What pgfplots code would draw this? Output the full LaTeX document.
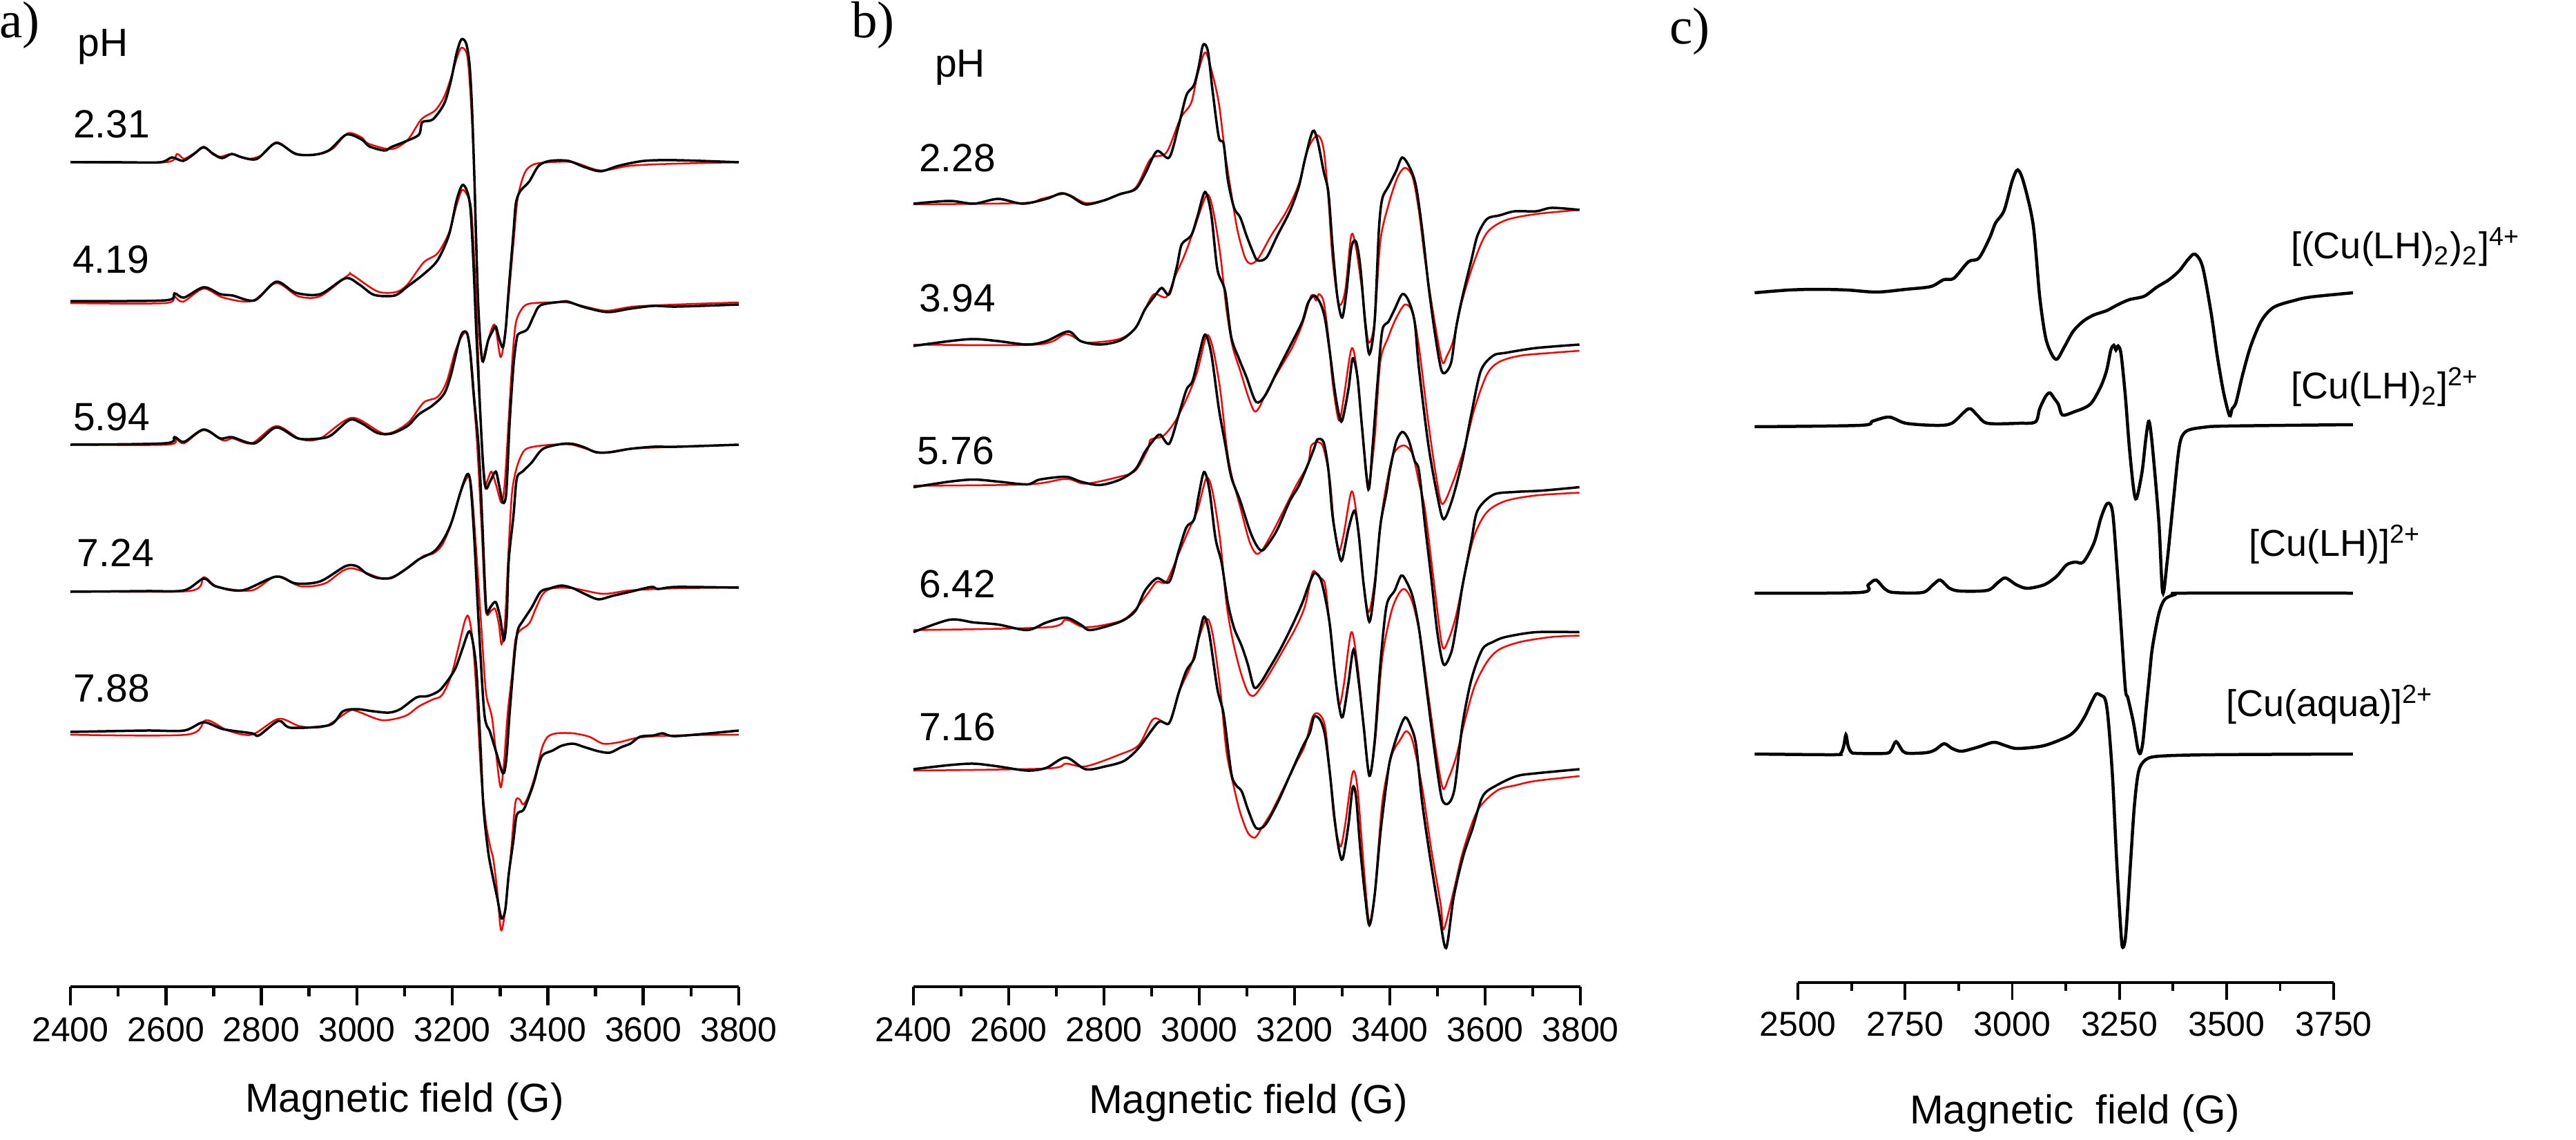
\documentclass[border=0pt]{standalone}
\usepackage{fontspec}
\setmainfont{Liberation Sans}
\newfontfamily\panelfont{Liberation Serif}
\usepackage{pgfplots}
\pgfplotsset{compat=1.18}

% EPR spectra: field in G, intensity in arbitrary units relative to each baseline
\pgfplotsset{
  eprbase/.style={
    scale only axis, clip=false, anchor=south west,
    axis x line*=bottom, hide y axis, ymin=0,
    tick align=outside,
    major tick length=5.4pt, minor tick length=2.8pt,
    tick style={black, line width=0.9pt},
    axis line style={line width=0.9pt},
    minor tick num=1,
    xticklabel style={font=\fontsize{10}{12}\selectfont},
    /pgf/number format/assume math mode=true,
    /pgf/number format/set thousands separator={},
    scaled x ticks=false,
  },
  expt/.style={black, line width=0.7pt, smooth},
  simu/.style={red, line width=0.5pt, smooth},
  calc/.style={black, line width=0.9pt, smooth},
}

\begin{document}
\begin{tikzpicture}
\useasboundingbox (0,0) rectangle (746.2pt,330pt);

%% ---------------- a) ----------------
\begin{axis}[eprbase, at={(20.4pt,44.2pt)}, width=193.6pt, height=279.8pt,
  xmin=2400, xmax=3800, ymax=1399, xtick={2400,2600,...,3800}]
% pH 2.31
\addplot[simu] table[row sep=\\, y expr=\thisrow{I}+1194]{G I\\
2400 0\\ 2598 0\\ 2623 12\\ 2638 5\\ 2659 13\\ 2679 21\\ 2699 13\\ 2714 8\\ 2738 12\\ 2770 5\\ 2800 10\\ 2831 29\\ 2860 17\\ 2882 11\\ 2923 12\\ 2950 20\\ 2981 42\\ 3010 36\\ 3024 27\\ 3072 19\\ 3106 32\\ 3135 62\\ 3164 75\\ 3183 95\\ 3197 122\\ 3210 152\\ 3219 166\\ 3231 155\\ 3238 98\\ 3246 -18\\ 3255 -218\\ 3262 -285\\ 3270 -270\\ 3288 -235\\ 3301 -282\\ 3310 -250\\ 3320 -180\\ 3328 -118\\ 3337 -52\\ 3352 -15\\ 3371 -3\\ 3405 0\\ 3453 0\\ 3511 -12\\ 3573 -5\\ 3670 -2\\ 3800 0\\};
\addplot[expt] table[row sep=\\, y expr=\thisrow{I}+1194]{G I\\
2400 0\\ 2507 0\\ 2588 0\\ 2613 7\\ 2636 2\\ 2659 12\\ 2679 22\\ 2699 12\\ 2718 6\\ 2738 12\\ 2760 7\\ 2791 5\\ 2831 28\\ 2872 12\\ 2912 11\\ 2943 18\\ 2978 40\\ 3010 33\\ 3026 23\\ 3058 17\\ 3072 22\\ 3101 30\\ 3130 40\\ 3137 58\\ 3159 62\\ 3183 85\\ 3197 118\\ 3209 158\\ 3219 178\\ 3229 172\\ 3236 142\\ 3241 82\\ 3246 -18\\ 3250 -118\\ 3255 -218\\ 3263 -288\\ 3275 -258\\ 3284 -245\\ 3291 -238\\ 3298 -255\\ 3306 -268\\ 3312 -240\\ 3318 -185\\ 3328 -102\\ 3333 -60\\ 3342 -42\\ 3361 -28\\ 3381 -5\\ 3405 2\\ 3443 2\\ 3477 -7\\ 3511 -13\\ 3549 -5\\ 3602 2\\ 3670 3\\ 3800 0\\};
% pH 4.19
\addplot[simu] table[row sep=\\, y expr=\thisrow{I}+991]{G I\\
2400 -1\\ 2598 -1\\ 2616 9\\ 2636 1\\ 2679 20\\ 2720 7\\ 2780 2\\ 2831 28\\ 2877 9\\ 2923 9\\ 2981 39\\ 2990 40\\ 3043 16\\ 3082 15\\ 3106 26\\ 3140 58\\ 3169 71\\ 3193 101\\ 3209 141\\ 3221 163\\ 3234 151\\ 3241 125\\ 3250 0\\ 3260 -180\\ 3267 -262\\ 3275 -255\\ 3282 -245\\ 3292 -265\\ 3303 -290\\ 3310 -260\\ 3318 -170\\ 3326 -80\\ 3333 -30\\ 3345 -10\\ 3360 -2\\ 3400 0\\ 3440 0\\ 3490 -8\\ 3525 -12\\ 3580 -6\\ 3670 -3\\ 3800 0\\};
\addplot[expt] table[row sep=\\, y expr=\thisrow{I}+991]{G I\\
2400 2\\ 2598 3\\ 2618 13\\ 2638 7\\ 2679 22\\ 2714 12\\ 2740 10\\ 2786 3\\ 2831 30\\ 2872 14\\ 2923 12\\ 2976 35\\ 3005 26\\ 3036 11\\ 3079 10\\ 3106 23\\ 3140 41\\ 3169 61\\ 3193 98\\ 3209 148\\ 3221 170\\ 3231 161\\ 3238 135\\ 3244 60\\ 3250 -40\\ 3257 -140\\ 3264 -230\\ 3270 -269\\ 3280 -258\\ 3291 -245\\ 3298 -265\\ 3306 -290\\ 3313 -275\\ 3320 -175\\ 3328 -92\\ 3335 -52\\ 3340 -45\\ 3357 -39\\ 3371 -19\\ 3385 -4\\ 3429 1\\ 3443 1\\ 3477 -7\\ 3525 -14\\ 3573 -9\\ 3622 -5\\ 3670 -6\\ 3800 -3\\};
% pH 5.94
\addplot[simu] table[row sep=\\, y expr=\thisrow{I}+785]{G I\\
2400 0\\ 2603 0\\ 2620 9\\ 2638 2\\ 2679 21\\ 2720 6\\ 2740 9\\ 2780 2\\ 2831 27\\ 2882 8\\ 2923 9\\ 2990 39\\ 3058 16\\ 3106 31\\ 3140 61\\ 3169 69\\ 3188 91\\ 3207 137\\ 3224 161\\ 3234 154\\ 3243 81\\ 3252 0\\ 3262 -130\\ 3270 -240\\ 3282 -240\\ 3290 -238\\ 3298 -262\\ 3303 -289\\ 3310 -260\\ 3318 -150\\ 3325 -70\\ 3335 -33\\ 3350 -9\\ 3370 -3\\ 3410 0\\ 3450 0\\ 3500 -10\\ 3525 -11\\ 3573 -6\\ 3670 -3\\ 3800 0\\};
\addplot[expt] table[row sep=\\, y expr=\thisrow{I}+785]{G I\\
2400 0\\ 2598 2\\ 2618 11\\ 2638 4\\ 2679 22\\ 2714 9\\ 2738 11\\ 2786 2\\ 2831 25\\ 2877 9\\ 2923 9\\ 2947 14\\ 2985 36\\ 3010 31\\ 3043 17\\ 3072 16\\ 3106 27\\ 3130 44\\ 3159 57\\ 3183 74\\ 3197 101\\ 3212 144\\ 3221 162\\ 3231 161\\ 3238 131\\ 3246 64\\ 3255 -3\\ 3262 -100\\ 3268 -200\\ 3272 -243\\ 3280 -235\\ 3291 -228\\ 3300 -250\\ 3308 -283\\ 3314 -250\\ 3318 -169\\ 3328 -103\\ 3335 -49\\ 3347 -39\\ 3366 -26\\ 3390 -6\\ 3429 1\\ 3453 1\\ 3477 -4\\ 3501 -11\\ 3530 -11\\ 3573 -6\\ 3622 -3\\ 3670 -3\\ 3800 0\\};
% pH 7.24
\addplot[simu] table[row sep=\\, y expr=\thisrow{I}+573]{G I\\
2400 0\\ 2648 0\\ 2679 20\\ 2709 6\\ 2780 1\\ 2831 21\\ 2882 7\\ 2933 11\\ 2985 33\\ 3058 18\\ 3106 33\\ 3140 51\\ 3159 54\\ 3178 66\\ 3197 96\\ 3217 143\\ 3234 166\\ 3241 143\\ 3250 60\\ 3260 -44\\ 3270 -144\\ 3279 -171\\ 3284 -187\\ 3291 -231\\ 3301 -284\\ 3308 -251\\ 3316 -177\\ 3325 -121\\ 3332 -71\\ 3342 -57\\ 3361 -47\\ 3375 -25\\ 3390 -4\\ 3410 4\\ 3453 4\\ 3516 -4\\ 3573 1\\ 3670 4\\ 3800 5\\};
\addplot[expt] table[row sep=\\, y expr=\thisrow{I}+573]{G I\\
2400 -1\\ 2557 0\\ 2638 1\\ 2679 18\\ 2704 7\\ 2760 1\\ 2831 21\\ 2872 11\\ 2923 14\\ 2976 36\\ 3000 36\\ 3019 26\\ 3043 19\\ 3072 19\\ 3101 31\\ 3130 46\\ 3159 56\\ 3173 66\\ 3188 83\\ 3200 103\\ 3217 143\\ 3231 169\\ 3238 156\\ 3246 76\\ 3255 -44\\ 3267 -177\\ 3279 -204\\ 3291 -231\\ 3306 -264\\ 3313 -244\\ 3320 -177\\ 3330 -94\\ 3337 -57\\ 3347 -44\\ 3366 -24\\ 3385 -1\\ 3405 4\\ 3429 8\\ 3453 4\\ 3477 -4\\ 3506 -12\\ 3535 -7\\ 3573 -1\\ 3617 6\\ 3631 3\\ 3670 6\\ 3800 5\\};
% pH 7.88
\addplot[simu] table[row sep=\\, y expr=\thisrow{I}+369]{G I\\
2400 -4\\ 2643 -4\\ 2684 17\\ 2730 2\\ 2780 -4\\ 2836 19\\ 2882 8\\ 2933 8\\ 2983 30\\ 3000 30\\ 3053 17\\ 3101 23\\ 3130 37\\ 3159 47\\ 3178 53\\ 3197 80\\ 3212 120\\ 3226 160\\ 3234 167\\ 3243 130\\ 3252 40\\ 3260 -60\\ 3270 -130\\ 3279 -165\\ 3286 -185\\ 3294 -230\\ 3302 -287\\ 3311 -257\\ 3323 -173\\ 3332 -103\\ 3340 -97\\ 3349 -105\\ 3361 -90\\ 3376 -57\\ 3388 -23\\ 3400 -7\\ 3419 -2\\ 3453 -2\\ 3487 -7\\ 3516 -17\\ 3549 -15\\ 3593 -8\\ 3670 -5\\ 3800 -4\\};
\addplot[expt] table[row sep=\\, y expr=\thisrow{I}+369]{G I\\
2400 0\\ 2557 2\\ 2638 2\\ 2679 14\\ 2720 4\\ 2780 -2\\ 2795 -5\\ 2836 16\\ 2862 6\\ 2943 10\\ 2971 30\\ 3000 33\\ 3033 30\\ 3067 28\\ 3091 33\\ 3125 50\\ 3149 52\\ 3173 60\\ 3193 77\\ 3207 93\\ 3221 120\\ 3234 145\\ 3241 137\\ 3250 93\\ 3258 -7\\ 3265 -107\\ 3275 -173\\ 3284 -207\\ 3294 -240\\ 3303 -270\\ 3311 -257\\ 3318 -207\\ 3328 -157\\ 3335 -120\\ 3349 -113\\ 3361 -93\\ 3371 -73\\ 3381 -47\\ 3390 -33\\ 3410 -27\\ 3429 -20\\ 3453 -17\\ 3477 -22\\ 3506 -28\\ 3530 -30\\ 3554 -22\\ 3573 -17\\ 3593 -7\\ 3622 -5\\ 3641 -2\\ 3670 -6\\ 3800 2\\};
\end{axis}

%% ---------------- b) ----------------
\begin{axis}[eprbase, at={(264.6pt,44.2pt)}, width=193.2pt, height=279.8pt,
  xmin=2400, xmax=3800, ymax=1399, xtick={2400,2600,...,3800}]
% pH 2.28
\addplot[simu] table[row sep=\\, y expr=\thisrow{I}+1134]{G I\\
2400 -1\\ 2629 1\\ 2669 7\\ 2720 14\\ 2761 1\\ 2801 5\\ 2822 11\\ 2866 23\\ 2898 65\\ 2931 74\\ 2960 123\\ 2983 146\\ 2996 186\\ 3012 219\\ 3025 195\\ 3041 146\\ 3054 74\\ 3067 16\\ 3080 -38\\ 3096 -78\\ 3109 -87\\ 3125 -78\\ 3151 -46\\ 3183 -11\\ 3209 29\\ 3228 79\\ 3248 99\\ 3261 79\\ 3271 7\\ 3280 -82\\ 3293 -145\\ 3306 -127\\ 3319 -46\\ 3329 -64\\ 3342 -127\\ 3355 -200\\ 3368 -171\\ 3380 -55\\ 3397 -2\\ 3416 38\\ 3432 52\\ 3448 38\\ 3461 -11\\ 3474 -82\\ 3494 -171\\ 3510 -229\\ 3520 -220\\ 3533 -198\\ 3552 -140\\ 3578 -82\\ 3604 -42\\ 3643 -24\\ 3707 -15\\ 3798 -9\\};
\addplot[expt] table[row sep=\\, y expr=\thisrow{I}+1134]{G I\\
2400 0\\ 2476 4\\ 2527 0\\ 2578 7\\ 2629 0\\ 2679 7\\ 2710 15\\ 2730 11\\ 2761 -1\\ 2801 5\\ 2834 14\\ 2866 21\\ 2886 43\\ 2911 76\\ 2937 67\\ 2957 114\\ 2973 157\\ 2989 172\\ 2999 199\\ 3008 230\\ 3018 221\\ 3028 163\\ 3041 96\\ 3051 87\\ 3060 34\\ 3073 -6\\ 3086 -20\\ 3099 -46\\ 3112 -69\\ 3122 -82\\ 3141 -78\\ 3164 -46\\ 3190 -11\\ 3209 25\\ 3222 65\\ 3238 105\\ 3248 92\\ 3261 47\\ 3271 16\\ 3280 -64\\ 3290 -136\\ 3300 -165\\ 3309 -127\\ 3319 -64\\ 3329 -55\\ 3338 -91\\ 3348 -171\\ 3357 -218\\ 3368 -171\\ 3377 -38\\ 3384 7\\ 3397 25\\ 3413 47\\ 3426 67\\ 3442 52\\ 3455 25\\ 3468 -38\\ 3481 -118\\ 3494 -185\\ 3507 -238\\ 3516 -245\\ 3529 -229\\ 3539 -180\\ 3552 -136\\ 3571 -82\\ 3584 -46\\ 3604 -22\\ 3630 -17\\ 3662 -11\\ 3707 -11\\ 3740 -6\\ 3798 -9\\};
% pH 3.94
\addplot[simu] table[row sep=\\, y expr=\thisrow{I}+930]{G I\\
2400 0\\ 2660 0\\ 2720 15\\ 2761 3\\ 2832 8\\ 2866 24\\ 2886 51\\ 2905 73\\ 2931 69\\ 2950 100\\ 2970 131\\ 2989 167\\ 3015 216\\ 3028 198\\ 3044 131\\ 3057 51\\ 3070 -3\\ 3086 -38\\ 3102 -74\\ 3115 -96\\ 3125 -92\\ 3144 -65\\ 3170 -34\\ 3196 -3\\ 3216 29\\ 3235 71\\ 3245 64\\ 3251 73\\ 3261 62\\ 3271 11\\ 3280 -56\\ 3293 -110\\ 3303 -78\\ 3319 -7\\ 3329 -29\\ 3342 -123\\ 3355 -201\\ 3368 -137\\ 3380 -25\\ 3397 11\\ 3413 38\\ 3432 58\\ 3448 46\\ 3461 -3\\ 3481 -114\\ 3497 -190\\ 3510 -231\\ 3532 -200\\ 3558 -146\\ 3578 -92\\ 3604 -43\\ 3630 -25\\ 3675 -16\\ 3740 -12\\ 3798 -9\\};
\addplot[expt] table[row sep=\\, y expr=\thisrow{I}+930]{G I\\
2400 -2\\ 2476 5\\ 2527 8\\ 2578 5\\ 2639 0\\ 2679 5\\ 2725 19\\ 2751 5\\ 2791 0\\ 2834 6\\ 2866 24\\ 2886 51\\ 2905 69\\ 2921 82\\ 2937 73\\ 2953 113\\ 2963 145\\ 2983 158\\ 2996 185\\ 3012 221\\ 3025 189\\ 3038 109\\ 3054 78\\ 3067 11\\ 3083 -20\\ 3099 -47\\ 3119 -83\\ 3138 -74\\ 3164 -38\\ 3190 -3\\ 3216 33\\ 3228 60\\ 3241 71\\ 3254 60\\ 3264 37\\ 3274 -11\\ 3284 -65\\ 3293 -101\\ 3300 -110\\ 3313 -65\\ 3322 -20\\ 3332 -47\\ 3342 -123\\ 3355 -210\\ 3364 -146\\ 3374 -56\\ 3384 20\\ 3397 33\\ 3410 51\\ 3426 73\\ 3439 64\\ 3452 33\\ 3461 -34\\ 3481 -146\\ 3500 -220\\ 3513 -253\\ 3532 -222\\ 3552 -168\\ 3571 -101\\ 3591 -38\\ 3617 -16\\ 3643 -12\\ 3707 -5\\ 3798 0\\};
% pH 5.76
\addplot[simu] table[row sep=\\, y expr=\thisrow{I}+727.5]{G I\\
2400 -2\\ 2640 0\\ 2720 8\\ 2761 1\\ 2832 11\\ 2866 20\\ 2892 51\\ 2898 65\\ 2924 70\\ 2950 92\\ 2976 128\\ 2996 164\\ 3015 215\\ 3028 199\\ 3044 137\\ 3057 57\\ 3067 16\\ 3086 -33\\ 3105 -82\\ 3119 -100\\ 3131 -96\\ 3151 -73\\ 3177 -38\\ 3203 -2\\ 3228 29\\ 3235 56\\ 3251 61\\ 3261 52\\ 3274 7\\ 3283 -60\\ 3293 -96\\ 3303 -73\\ 3319 -11\\ 3329 -38\\ 3342 -127\\ 3355 -185\\ 3368 -141\\ 3384 -38\\ 3403 34\\ 3416 52\\ 3432 56\\ 3448 43\\ 3461 3\\ 3474 -38\\ 3494 -150\\ 3510 -234\\ 3523 -225\\ 3539 -190\\ 3558 -127\\ 3578 -73\\ 3604 -40\\ 3643 -24\\ 3707 -16\\ 3798 -12\\};
\addplot[expt] table[row sep=\\, y expr=\thisrow{I}+727.5]{G I\\
2400 -4\\ 2476 4\\ 2527 7\\ 2578 4\\ 2639 0\\ 2665 7\\ 2720 11\\ 2751 4\\ 2791 -1\\ 2834 7\\ 2866 22\\ 2886 47\\ 2905 65\\ 2918 72\\ 2937 59\\ 2957 101\\ 2973 137\\ 2986 150\\ 2999 186\\ 3012 217\\ 3025 190\\ 3041 110\\ 3054 60\\ 3067 11\\ 3086 -24\\ 3105 -65\\ 3119 -87\\ 3131 -96\\ 3144 -87\\ 3164 -65\\ 3190 -24\\ 3209 -2\\ 3228 29\\ 3241 52\\ 3248 65\\ 3261 61\\ 3271 21\\ 3280 -47\\ 3293 -100\\ 3300 -109\\ 3313 -65\\ 3326 -38\\ 3335 -74\\ 3345 -145\\ 3357 -199\\ 3368 -149\\ 3380 -60\\ 3393 -11\\ 3400 20\\ 3413 61\\ 3426 76\\ 3439 65\\ 3452 34\\ 3461 20\\ 3474 -60\\ 3487 -136\\ 3500 -216\\ 3513 -261\\ 3529 -243\\ 3539 -207\\ 3552 -149\\ 3571 -82\\ 3584 -38\\ 3617 -15\\ 3662 -11\\ 3720 -9\\ 3798 -4\\};
% pH 6.42
\addplot[simu] table[row sep=\\, y expr=\thisrow{I}+520.5]{G I\\
2400 -4\\ 2680 0\\ 2720 11\\ 2761 0\\ 2834 9\\ 2866 26\\ 2892 49\\ 2911 66\\ 2931 66\\ 2957 107\\ 2976 138\\ 2996 169\\ 3015 216\\ 3028 196\\ 3044 125\\ 3057 35\\ 3070 -18\\ 3086 -63\\ 3102 -94\\ 3115 -99\\ 3131 -85\\ 3151 -63\\ 3177 -32\\ 3203 0\\ 3222 31\\ 3238 80\\ 3251 73\\ 3264 62\\ 3274 0\\ 3283 -54\\ 3293 -112\\ 3303 -85\\ 3319 -7\\ 3332 -54\\ 3345 -143\\ 3357 -212\\ 3369 -166\\ 3384 -45\\ 3403 22\\ 3419 49\\ 3432 55\\ 3448 35\\ 3465 -18\\ 3481 -99\\ 3497 -179\\ 3511 -233\\ 3523 -219\\ 3539 -188\\ 3558 -134\\ 3578 -85\\ 3604 -50\\ 3630 -32\\ 3675 -21\\ 3740 -14\\ 3798 -12\\};
\addplot[expt] table[row sep=\\, y expr=\thisrow{I}+520.5]{G I\\
2400 -7\\ 2476 11\\ 2527 7\\ 2578 4\\ 2639 -4\\ 2679 7\\ 2720 14\\ 2751 4\\ 2772 -4\\ 2834 8\\ 2866 24\\ 2886 53\\ 2911 71\\ 2937 66\\ 2957 111\\ 2973 145\\ 2989 156\\ 2999 192\\ 3010 225\\ 3021 200\\ 3034 129\\ 3047 93\\ 3060 35\\ 3073 -1\\ 3089 -27\\ 3102 -54\\ 3115 -87\\ 3128 -81\\ 3144 -63\\ 3170 -32\\ 3196 4\\ 3216 35\\ 3228 58\\ 3241 78\\ 3254 71\\ 3264 44\\ 3274 4\\ 3284 -63\\ 3293 -112\\ 3301 -130\\ 3313 -81\\ 3324 -32\\ 3335 -81\\ 3345 -143\\ 3357 -215\\ 3368 -166\\ 3380 -54\\ 3393 31\\ 3410 53\\ 3424 75\\ 3435 66\\ 3448 44\\ 3461 -1\\ 3474 -72\\ 3487 -143\\ 3500 -210\\ 3510 -250\\ 3523 -255\\ 3536 -233\\ 3552 -143\\ 3571 -76\\ 3594 -32\\ 3617 -21\\ 3643 -14\\ 3707 -7\\ 3798 -7\\};
% pH 7.16
\addplot[simu] table[row sep=\\, y expr=\thisrow{I}+315]{G I\\
2400 -2\\ 2679 1\\ 2720 8\\ 2761 4\\ 2832 21\\ 2873 35\\ 2904 73\\ 2937 67\\ 2957 111\\ 2983 151\\ 2996 183\\ 3015 218\\ 3028 196\\ 3044 116\\ 3057 26\\ 3073 -27\\ 3086 -63\\ 3102 -92\\ 3117 -99\\ 3131 -85\\ 3151 -63\\ 3177 -27\\ 3203 9\\ 3222 35\\ 3238 76\\ 3251 80\\ 3264 62\\ 3274 -5\\ 3283 -72\\ 3296 -112\\ 3306 -81\\ 3322 -5\\ 3332 -27\\ 3345 -139\\ 3357 -223\\ 3368 -183\\ 3384 -49\\ 3403 18\\ 3423 44\\ 3435 55\\ 3448 40\\ 3468 -27\\ 3487 -116\\ 3507 -197\\ 3513 -232\\ 3534 -176\\ 3554 -118\\ 3584 -60\\ 3625 -31\\ 3666 -23\\ 3706 -17\\ 3798 -10\\};
\addplot[expt] table[row sep=\\, y expr=\thisrow{I}+315]{G I\\
2400 0\\ 2476 6\\ 2527 8\\ 2578 4\\ 2639 -2\\ 2679 2\\ 2720 17\\ 2761 0\\ 2802 4\\ 2842 12\\ 2873 31\\ 2914 68\\ 2937 67\\ 2957 111\\ 2973 143\\ 2989 160\\ 2999 192\\ 3010 221\\ 3021 196\\ 3038 116\\ 3051 80\\ 3067 -5\\ 3077 -23\\ 3089 -32\\ 3102 -58\\ 3119 -85\\ 3138 -81\\ 3164 -49\\ 3190 -9\\ 3216 31\\ 3232 53\\ 3241 76\\ 3254 71\\ 3264 49\\ 3274 -5\\ 3284 -72\\ 3293 -116\\ 3301 -130\\ 3313 -81\\ 3322 -27\\ 3329 -40\\ 3338 -116\\ 3348 -183\\ 3357 -226\\ 3368 -183\\ 3380 -94\\ 3393 -20\\ 3401 15\\ 3417 52\\ 3432 75\\ 3444 62\\ 3455 35\\ 3468 -49\\ 3487 -139\\ 3503 -206\\ 3518 -259\\ 3534 -185\\ 3554 -126\\ 3574 -85\\ 3595 -39\\ 3625 -23\\ 3666 -10\\ 3706 -6\\ 3798 0\\};
\end{axis}

%% ---------------- c) ----------------
\begin{axis}[eprbase, at={(520.8pt,45.4pt)}, width=155.2pt, height=278.6pt,
  xmin=2500, xmax=3750, ymax=1393, xtick={2500,2750,...,3750},
  major tick length=5pt, minor tick length=2.4pt,
  tick style={black, line width=0.75pt}]
% [(Cu(LH)2)2]4+
\addplot[calc] table[row sep=\\, y expr=\thisrow{I}+999]{G I\\
2399 0\\ 2479 4\\ 2547 5\\ 2615 4\\ 2684 1\\ 2752 5\\ 2810 9\\ 2840 19\\ 2864 21\\ 2898 45\\ 2922 50\\ 2947 79\\ 2961 101\\ 2981 119\\ 3000 162\\ 3013 178\\ 3027 159\\ 3049 98\\ 3064 -5\\ 3078 -65\\ 3093 -90\\ 3105 -96\\ 3122 -78\\ 3142 -56\\ 3166 -41\\ 3191 -32\\ 3220 -26\\ 3244 -18\\ 3273 -10\\ 3308 -5\\ 3337 8\\ 3366 19\\ 3390 32\\ 3410 48\\ 3426 56\\ 3444 38\\ 3464 -29\\ 3478 -90\\ 3493 -144\\ 3507 -178\\ 3513 -168\\ 3522 -159\\ 3537 -120\\ 3556 -78\\ 3581 -41\\ 3610 -21\\ 3659 -11\\ 3698 -6\\ 3795 0\\};
% [Cu(LH)2]2+
\addplot[calc] table[row sep=\\, y expr=\thisrow{I}+805]{G I\\
2399 0\\ 2645 2\\ 2674 8\\ 2713 14\\ 2752 5\\ 2820 2\\ 2859 5\\ 2898 26\\ 2918 17\\ 2942 5\\ 3015 5\\ 3054 7\\ 3064 26\\ 3078 44\\ 3088 49\\ 3098 41\\ 3108 32\\ 3117 17\\ 3142 21\\ 3181 32\\ 3205 56\\ 3220 81\\ 3230 111\\ 3237 118\\ 3242 111\\ 3247 117\\ 3254 105\\ 3264 44\\ 3273 -28\\ 3283 -89\\ 3290 -104\\ 3303 -65\\ 3312 -16\\ 3319 8\\ 3327 -28\\ 3342 -137\\ 3351 -240\\ 3361 -198\\ 3376 -107\\ 3390 -28\\ 3405 -7\\ 3444 -1\\ 3503 1\\ 3795 3\\};
% [Cu(LH)]2+
\addplot[calc] table[row sep=\\, y expr=\thisrow{I}+564]{G I\\
2399 0\\ 2645 1\\ 2664 12\\ 2682 19\\ 2703 6\\ 2723 1\\ 2791 1\\ 2815 12\\ 2832 19\\ 2854 7\\ 2879 3\\ 2942 4\\ 2966 15\\ 2984 22\\ 3010 12\\ 3035 7\\ 3074 12\\ 3103 24\\ 3127 41\\ 3147 45\\ 3166 45\\ 3191 73\\ 3207 109\\ 3222 130\\ 3234 118\\ 3244 42\\ 3254 -48\\ 3264 -139\\ 3270 -152\\ 3283 -188\\ 3293 -225\\ 3299 -232\\ 3305 -215\\ 3312 -170\\ 3320 -120\\ 3327 -79\\ 3342 -30\\ 3356 -9\\ 3380 -2\\ 3405 0\\ 3795 0\\};
% [Cu(aqua)]2+
\addplot[calc] table[row sep=\\, y expr=\thisrow{I}+331]{G I\\
2399 0\\ 2582 -1\\ 2600 1\\ 2607 12\\ 2612 28\\ 2617 12\\ 2624 3\\ 2636 1\\ 2705 1\\ 2718 6\\ 2729 18\\ 2745 4\\ 2759 1\\ 2800 2\\ 2820 6\\ 2841 15\\ 2860 8\\ 2882 4\\ 2920 10\\ 2957 17\\ 2985 12\\ 3012 8\\ 3073 12\\ 3128 25\\ 3150 36\\ 3169 54\\ 3185 75\\ 3196 87\\ 3207 85\\ 3217 79\\ 3224 50\\ 3234 -33\\ 3244 -158\\ 3254 -261\\ 3258 -280\\ 3265 -261\\ 3276 -158\\ 3285 -75\\ 3295 -25\\ 3312 -8\\ 3346 -3\\ 3470 -1\\ 3795 0\\};
\end{axis}

%% ---------------- labels ----------------
\begin{scope}[shift={(0,330pt)}, x=0.2pt, y=-0.2pt]
  \tikzset{lab/.style={anchor=base west, inner sep=0pt, font=\fontsize{11.4}{13}\selectfont}}
  \node[anchor=base west, inner sep=0pt, font=\panelfont\fontsize{15}{18}\selectfont] at (-2,55) {a)};
  \node[anchor=base west, inner sep=0pt, font=\panelfont\fontsize{15}{18}\selectfont] at (1232,55) {b)};
  \node[anchor=base west, inner sep=0pt, font=\panelfont\fontsize{15}{18}\selectfont] at (2417,64) {c)};
  % pH values, panel a
  \node[lab] at (112,82) {pH};
  \node[lab] at (105,200) {2.31};
  \node[lab] at (104,396) {4.19};
  \node[lab] at (105,624) {5.94};
  \node[lab] at (111,821) {7.24};
  \node[lab] at (105,1017) {7.88};
  % pH values, panel b
  \node[lab] at (1353,112) {pH};
  \node[lab] at (1330,249) {2.28};
  \node[lab] at (1330,452) {3.94};
  \node[lab] at (1328,673) {5.76};
  \node[lab] at (1330,866) {6.42};
  \node[lab] at (1330,1073) {7.16};
  % species, panel c
  \tikzset{sp/.style={anchor=base west, inner sep=0pt, font=\fontsize{10.8}{13}\selectfont}}
  \node[sp] at (3317,375) {[(Cu(LH)\textsubscript{2})\textsubscript{2}]\textsuperscript{4+}};
  \node[sp] at (3317,578) {[Cu(LH)\textsubscript{2}]\textsuperscript{2+}};
  \node[sp] at (3256,806) {[Cu(LH)]\textsuperscript{2+}};
  \node[sp] at (3223,1038) {[Cu(aqua)]\textsuperscript{2+}};
  % axis titles
  \tikzset{ttl/.style={anchor=base, inner sep=0pt, font=\fontsize{11.7}{14}\selectfont}}
  \node[ttl] at (586,1611) {Magnetic field (G)};
  \node[ttl] at (1808,1613) {Magnetic field (G)};
  \node[ttl] at (3005,1628) {Magnetic\ \ field (G)};
\end{scope}
\end{tikzpicture}
\end{document}
